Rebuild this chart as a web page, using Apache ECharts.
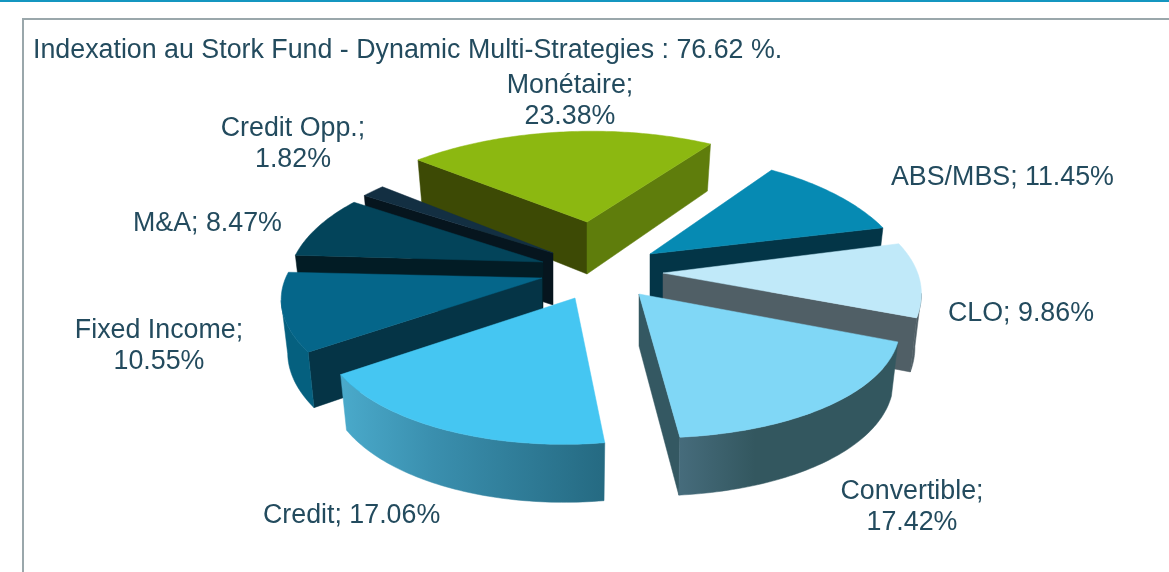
<!DOCTYPE html>
<html lang="fr">
<head>
  <meta charset="UTF-8">
  <title>Indexation au Stork Fund</title>
  <style>
    html, body { margin: 0; padding: 0; background: #fff; }
    #chart { width: 1169px; height: 572px; }
  </style>
</head>
<body>
  <div id="chart"></div>
  <script src="https://cdn.jsdelivr.net/npm/echarts@6/dist/echarts.min.js"></script>
  <script>
    // data, clockwise from the left edge of the green slice
    const categories = ['Monétaire', 'ABS/MBS', 'CLO', 'Convertible', 'Credit', 'Fixed Income', 'M&A', 'Credit Opp.']
    const values = [23.38, 11.45, 9.86, 17.42, 17.06, 10.55, 8.47, 1.82]
    const titleText = 'Indexation au Stork Fund - Dynamic Multi-Strategies : 76.62 %.'

    // look of the 3d pie
    const startAngle = 141
    const radiusX = 250, radiusY = 111, perspective = 0.23
    const apexes = [[587, 222], [650, 254], [663, 273], [639, 294], [575, 298], [542, 278], [543, 262], [553, 253]]
    // each exploded slice sits a bit differently in the perspective: xx, xy, yx, yy
    const warp = [
      [1.024, -0.078, 0.004, 1.006], [1.02, -0.059, 0.022, 1.109], [1.02, -0.159, 0.004, 1.072], [1.017, -0.012, 0.028, 0.996],
      [0.977, -0.078, 0, 1.015], [1.022, 0.068, 0.008, 1.007], [0.9985, 0.027, 0.011, 1.088], [1.005, 0, 0, 1.085]
    ]
    const drawOrder = [0, 7, 6, 1, 5, 2, 3, 4]
    const topColors = ['#8cb811', '#068ab3', '#c0e9f9', '#80d7f6', '#45c6f2', '#05668a', '#03445a', '#132f42']
    const startWallColors = ['#3d4a05', '#033547', '#505f66', '#345862', '#256a82', '#053446', '#021c25', '#06151e']
    const endWallColors = ['#5f7d0c', '#033547', '#505f66', '#345862', '#256a82', '#053446', '#021c25', '#06151e']
    // outer wall gradient: left, middle, right
    const outerColors = [
      ['#5f7d0c', '#5f7d0c', '#5f7d0c'], ['#033547', '#033547', '#033547'], ['#505f66', '#505f66', '#505f66'],
      ['#466c7c', '#33575f', '#33575f'], ['#4aaacb', '#3a8fae', '#256a82'], ['#05607f', '#05607f', '#05607f'],
      ['#021c25', '#021c25', '#021c25'], ['#06151e', '#06151e', '#06151e']
    ]
    // label anchor: x, y of first line, align, two lines or not
    const labelPos = [
      [570, 84, 'center', true], [891, 176, 'left', false], [948, 312, 'left', false], [912, 490, 'center', true],
      [263, 514, 'left', false], [159, 329, 'center', true], [133, 222, 'left', false], [293, 127, 'center', true]
    ]
    const textColor = '#234b5e'
    const fontSize = 26.8
    const lineGap = 31

    const total = values.reduce((a, b) => a + b, 0)
    const angles = []
    let acc = startAngle
    values.forEach(v => {
      let next = acc - v / total * 360
      angles.push([acc, next])
      acc = next
    })

    function project(i, deg) {
      const apex = apexes[i], w = warp[i]
      const r = deg * Math.PI / 180
      const X = Math.cos(r), Y = -Math.sin(r)
      const d = 1 / (1 - perspective * Y)
      const p = radiusX * X * d, q = radiusY * Y * d
      return { x: apex[0] + w[0] * p + w[1] * q, y: apex[1] + w[2] * p + w[3] * q, h: 52 + 6 * Y, Y: Y }
    }
    // point at the foot of the wall below a top point
    function foot(apex, p) {
      return [apex[0] + (p.x - apex[0]) * 0.975, p.y + p.h]
    }
    function arc(i, from, to) {
      const pts = []
      const n = Math.max(2, Math.ceil(Math.abs(from - to)))
      for (let k = 0; k <= n; k++) {
        pts.push(project(i, from + (to - from) * k / n))
      }
      return pts
    }
    function poly(points, fill, z2) {
      return { type: 'polygon', z2: z2, shape: { points: points }, style: { fill: fill, stroke: fill, lineWidth: 0.5 } }
    }

    function renderSlice(params, api) {
      const i = params.dataIndex
      const apex = apexes[i]
      const a = angles[i][0], b = angles[i][1]
      const base = drawOrder.indexOf(i) * 10 + 1
      const children = []
      const apexBottom = [apex[0], apex[1] + 52]

      // cut walls, only the ones facing the viewer
      if (Math.cos(a * Math.PI / 180) < 0) {
        const p = project(i, a)
        children.push(poly([apex, [p.x, p.y], foot(apex, p), apexBottom], startWallColors[i], base))
      }
      if (Math.cos(b * Math.PI / 180) > 0) {
        const p = project(i, b)
        children.push(poly([apex, [p.x, p.y], foot(apex, p), apexBottom], endWallColors[i], base + 1))
      }

      // outer wall, from the silhouette point to the front
      const whole = arc(i, a, b)
      let far = whole[0]
      whole.forEach(p => { if (Math.abs(p.x - apex[0]) > Math.abs(far.x - apex[0])) far = p })
      const limit = Math.max(0, far.Y)
      const front = whole.filter(p => p.Y >= limit)
      if (front.length > 1) {
        const pts = front.map(p => [p.x, p.y]).concat(front.slice().reverse().map(p => foot(apex, p)))
        const fill = new echarts.graphic.LinearGradient(0, 0, 1, 0, [
          { offset: 0, color: outerColors[i][0] },
          { offset: 0.35, color: outerColors[i][1] },
          { offset: 1, color: outerColors[i][2] }
        ])
        children.push(poly(pts, fill, base + 2))
      }

      // top face
      const top = [apex].concat(whole.map(p => [p.x, p.y]))
      children.push(poly(top, topColors[i], base + 3))

      // label
      const lp = labelPos[i]
      const val = api.value(0).toFixed(2) + '%'
      const lines = lp[3] ? [categories[i] + ';', val] : [categories[i] + '; ' + val]
      lines.forEach((t, k) => {
        children.push({
          type: 'text', z2: 200,
          style: {
            text: t, x: lp[0], y: lp[1] + 2 + k * lineGap, align: lp[2], verticalAlign: 'middle',
            fill: textColor, fontSize: fontSize, fontFamily: 'Liberation Sans'
          }
        })
      })
      return { type: 'group', children: children }
    }

    const chart = echarts.init(document.getElementById('chart'))
    chart.setOption({
      animation: false,
      backgroundColor: '#fff',
      title: {
        text: titleText, left: 28, top: 32,
        textStyle: { color: textColor, fontSize: fontSize, fontWeight: 'normal', fontFamily: 'Liberation Sans' }
      },
      graphic: [
        { type: 'rect', shape: { x: 0, y: 0, width: 1169, height: 2 }, style: { fill: '#1496c0' } },
        { type: 'rect', shape: { x: 22, y: 18, width: 1147, height: 2 }, style: { fill: '#9aa7ab' } },
        { type: 'rect', shape: { x: 22, y: 18, width: 2, height: 554 }, style: { fill: '#9aa7ab' } }
      ],
      series: [{
        type: 'custom',
        coordinateSystem: 'none',
        silent: true,
        renderItem: renderSlice,
        data: values.map(v => [v])
      }]
    })
  </script>
</body>
</html>
